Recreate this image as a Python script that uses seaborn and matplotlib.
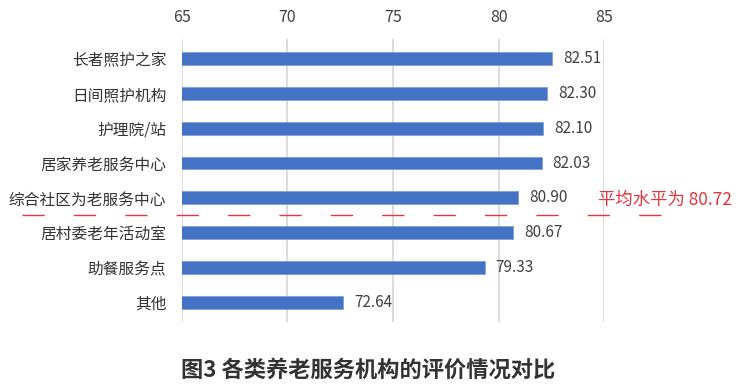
import matplotlib
matplotlib.use("Agg")
import matplotlib.pyplot as plt
import matplotlib.transforms as mtransforms
import numpy as np
import pandas as pd
import seaborn as sns

# Data
categories = ["长者照护之家", "日间照护机构", "护理院/站", "居家养老服务中心",
              "综合社区为老服务中心", "居村委老年活动室", "助餐服务点", "其他"]
scores = [82.51, 82.30, 82.10, 82.03, 80.90, 80.67, 79.33, 72.64]
average = 80.72
x_ticks = [65, 70, 75, 80, 85]
title = "图3 各类养老服务机构的评价情况对比"

sns.set_theme(style="white")
plt.rcParams["font.family"] = ["Noto Sans CJK SC", "DejaVu Sans"]
plt.rcParams["axes.unicode_minus"] = False

df = pd.DataFrame({"category": categories, "score": scores})

fig = plt.figure(figsize=(7.47, 3.86), dpi=100)
ax = fig.add_axes([0.2432, 0.166, 0.5660, 0.733])

sns.barplot(data=df, y="category", x="score", orient="h", color="#4472C4",
            saturation=1, width=0.37, edgecolor="#7f9fd6", linewidth=0.6,
            ax=ax, zorder=3)

ax.set_xlim(x_ticks[0], x_ticks[-1])
ax.set_xticks(x_ticks)
ax.xaxis.tick_top()
ax.set_xlabel("")
ax.set_ylabel("")
ax.grid(axis="x", color="#d9d9d9", linewidth=1.3, zorder=0)
ax.grid(axis="y", visible=False)
for s in ax.spines.values():
    s.set_visible(False)
ax.tick_params(axis="x", length=0, pad=9, labelsize=11.5, labelcolor="#404040")
ax.tick_params(axis="y", length=0, pad=11, labelsize=11.3, labelcolor="#333333")

# value labels
for i, v in enumerate(scores):
    ax.text(v + 0.52, i, f"{v:.2f}", va="center", ha="left",
            fontsize=11, color="#404040")

# average line between categories above / below the mean
n_above = sum(1 for v in scores if v > average)
ypos = n_above - 0.5
trans = mtransforms.blended_transform_factory(fig.transFigure, ax.transData)
ax.plot([0.029, 0.895], [ypos, ypos], transform=trans, color="#e8333c",
        linewidth=1.0, dashes=(16, 21), clip_on=False, zorder=4)
ax.text(0.801, ypos - 0.45, f"平均水平为 {average:.2f}", transform=trans,
        ha="left", va="center", fontsize=12.5, color="#e8333c")

fig.text(0.493, 0.042, title, ha="center", va="center", fontsize=16,
         fontweight="bold", color="#333333")

fig.savefig("out.png", dpi=100)
